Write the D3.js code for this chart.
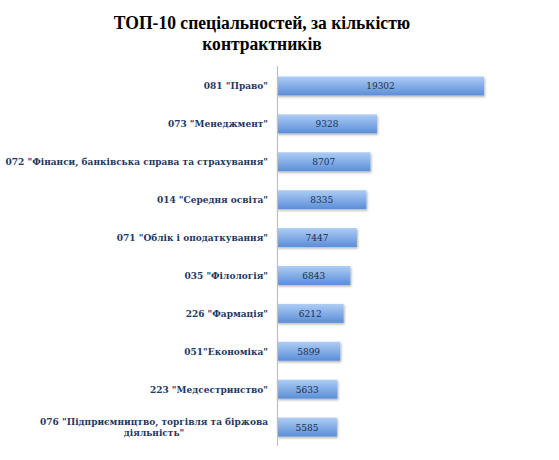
<!DOCTYPE html>
<html>
<head>
<meta charset="utf-8">
<script src="https://cdn.jsdelivr.net/npm/d3@7"></script>
<style>
  body { margin: 0; background: #fff; }
  svg text { font-family: "DejaVu Serif Condensed", "DejaVu Serif", serif; font-weight: bold; }
  svg text.title { font-family: "Liberation Serif", "DejaVu Serif", serif; }
</style>
</head>
<body>
<div id="chart"></div>
<script>
// data
var categories = [
  "081 \"Право\"",
  "073 \"Менеджмент\"",
  "072 \"Фінанси, банківська справа та страхування\"",
  "014 \"Середня освіта\"",
  "071 \"Облік і оподаткування\"",
  "035 \"Філологія\"",
  "226 \"Фармація\"",
  "051\"Економіка\"",
  "223 \"Медсестринство\"",
  "076 \"Підприємництво, торгівля та біржова|діяльність\""
];
var contractors = [19302, 9328, 8707, 8335, 7447, 6843, 6212, 5899, 5633, 5585];
var titleLines = ["ТОП-10 спеціальностей, за кількістю", "контрактників"];

var svgWidth = 559, svgHeight = 460;
var margin = { top: 67, right: 60, bottom: 14, left: 277 };
var width = svgWidth - margin.left - margin.right;
var height = svgHeight - margin.top - margin.bottom;

var svg = d3.select("#chart").append("svg")
  .attr("width", svgWidth)
  .attr("height", svgHeight);

var defs = svg.append("defs");
var grad = defs.append("linearGradient")
  .attr("id", "barGrad")
  .attr("x1", 0).attr("y1", 0).attr("x2", 0).attr("y2", 1);
grad.append("stop").attr("offset", "0%").attr("stop-color", "#aecdf5");
grad.append("stop").attr("offset", "100%").attr("stop-color", "#5a8ed8");

var shadow = defs.append("filter").attr("id", "shadow")
  .attr("x", "-5%").attr("y", "-20%").attr("width", "115%").attr("height", "160%");
shadow.append("feDropShadow")
  .attr("dx", 1).attr("dy", 1.5).attr("stdDeviation", 1)
  .attr("flood-color", "#000").attr("flood-opacity", 0.3);

// title (narrowed a bit, the original face is condensed)
svg.append("g")
  .attr("transform", "translate(262,0) scale(0.9,1)")
  .selectAll("text")
  .data(titleLines)
  .enter()
  .append("text")
  .attr("class", "title")
  .attr("x", 0)
  .attr("y", (d, i) => 29 + i * 21)
  .attr("text-anchor", "middle")
  .attr("font-size", "19.5px")
  .attr("fill", "#000")
  .text(d => d);

var chartGroup = svg.append("g")
  .attr("transform", `translate(${margin.left}, ${margin.top})`);

var x = d3.scaleLinear()
  .domain([0, 20000])
  .range([0, 214.5]);

var y = d3.scaleBand()
  .domain(categories)
  .range([0, height])
  .paddingInner(0.5)
  .paddingOuter(0.25);

chartGroup.selectAll("rect")
  .data(contractors)
  .enter()
  .append("rect")
  .attr("x", 0)
  .attr("y", (d, i) => y(categories[i]))
  .attr("width", d => x(d))
  .attr("height", y.bandwidth())
  .attr("fill", "url(#barGrad)")
  .attr("filter", "url(#shadow)");

chartGroup.selectAll(".val")
  .data(contractors)
  .enter()
  .append("text")
  .attr("class", "val")
  .attr("x", d => x(d) / 2)
  .attr("y", (d, i) => y(categories[i]) + y.bandwidth() / 2)
  .attr("dy", "0.35em")
  .attr("text-anchor", "middle")
  .attr("font-size", "10px")
  .style("font-weight", "normal")
  .attr("fill", "#1a2f50")
  .text(d => d);

// axis line on the left
var leftAxis = d3.axisLeft(y).tickSize(0).tickFormat("");
var axisG = chartGroup.append("g").call(leftAxis);
axisG.select(".domain").attr("stroke", "#bfbfbf").attr("stroke-width", 1.2)
  .attr("d", `M0.5,-1V${height}`);

// category labels, right aligned; a "|" splits a label into centred lines
var labelG = chartGroup.append("g");
categories.forEach(function (c) {
  var lines = c.split("|");
  var cy = y(c) + y.bandwidth() / 2;
  var t = labelG.append("text")
    .attr("font-size", "10px")
    .attr("fill", "#1f3864");
  if (lines.length === 1) {
    t.attr("x", -9).attr("y", cy).attr("dy", "0.35em")
      .attr("text-anchor", "end").text(c);
  } else {
    var lh = 11;
    lines.forEach(function (l, j) {
      t.append("tspan").attr("y", cy + (j - (lines.length - 1) / 2) * lh)
        .attr("dy", "0.35em").text(l);
    });
    // measure the widest line, then centre each line within it
    var nodes = t.selectAll("tspan").nodes();
    var w = d3.max(nodes, n => n.getComputedTextLength());
    nodes.forEach(function (n) {
      d3.select(n).attr("x", -9 - w / 2).attr("text-anchor", "middle");
    });
  }
});
</script>
</body>
</html>
